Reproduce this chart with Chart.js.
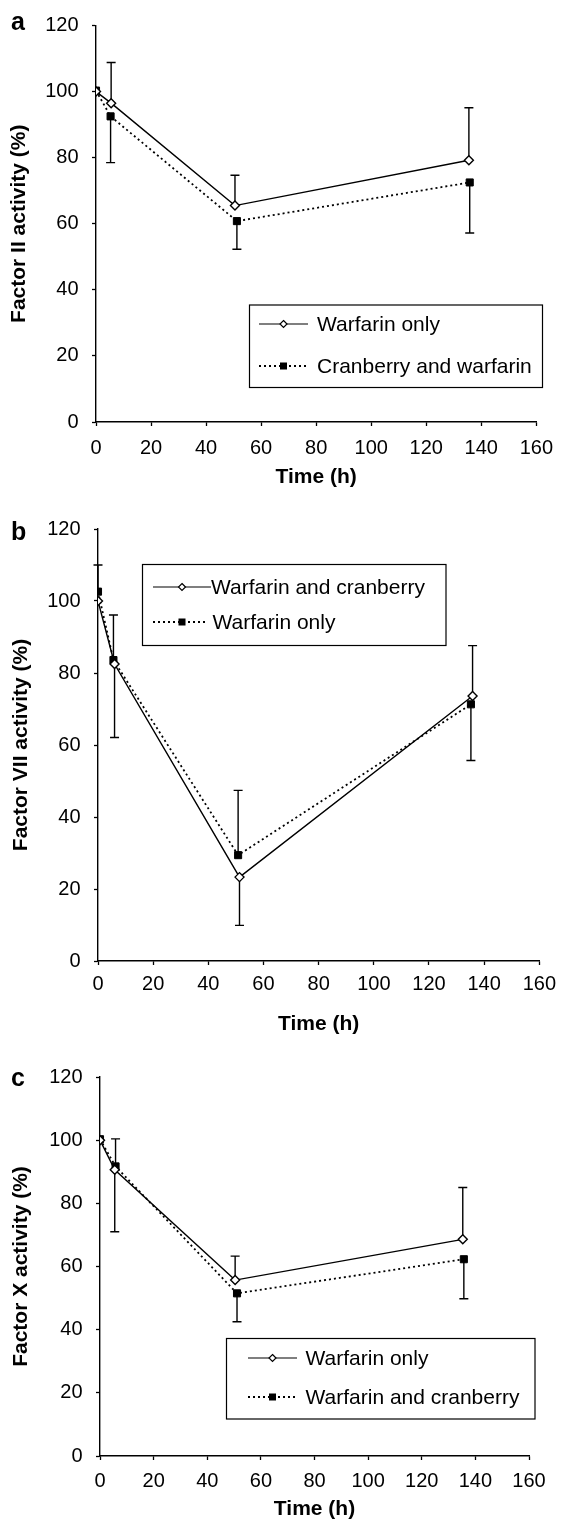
<!DOCTYPE html>
<html>
<head>
<meta charset="utf-8">
<script src="https://cdn.jsdelivr.net/npm/chart.js@4/dist/chart.umd.min.js"></script>
<style>
body { margin: 0; background: #fff; }
#wrap { position: relative; width: 563px; height: 1538px; }
canvas { position: absolute; left: 0; }
</style>
</head>
<body>
<div id="wrap">
<canvas id="chartA" width="563" height="500" style="top:0px"></canvas>
<canvas id="chartB" width="563" height="540" style="top:500px"></canvas>
<canvas id="chartC" width="563" height="498" style="top:1040px"></canvas>
</div>
<script>
// shared axes
var xTicks = [0, 20, 40, 60, 80, 100, 120, 140, 160];
var yTicks = [0, 20, 40, 60, 80, 100, 120];

// panel a - Factor II
var aSolidLabel = 'Warfarin only';
var aSolidX = [0, 5.5, 50.5, 135.5];
var aSolidY = [100, 96.5, 65.5, 79.2];
var aSolidHi = [null, 108.8, 74.7, 95.1];
var aSolidLo = [null, null, null, null];
var aDotLabel = 'Cranberry and warfarin';
var aDotX = [0, 5.3, 51.2, 135.8];
var aDotY = [100.3, 92.5, 60.8, 72.5];
var aDotHi = [null, null, null, null];
var aDotLo = [null, 78.5, 52.3, 57.2];

// panel b - Factor VII
var bSolidLabel = 'Warfarin and cranberry';
var bSolidX = [0, 6.0, 51.3, 135.8];
var bSolidY = [100, 82.5, 23.3, 73.6];
var bSolidHi = [null, null, null, 87.6];
var bSolidLo = [null, 62.1, 9.9, null];
var bDotLabel = 'Warfarin only';
var bDotX = [0, 5.6, 50.8, 135.2];
var bDotY = [102.6, 83.6, 29.4, 71.3];
var bDotHi = [110, 96.1, 47.4, null];
var bDotLo = [null, null, null, 55.7];

// panel c - Factor X
var cSolidLabel = 'Warfarin only';
var cSolidX = [0, 5.5, 50.4, 135.3];
var cSolidY = [100, 90.6, 55.7, 68.6];
var cSolidHi = [null, null, 63.3, 85.0];
var cSolidLo = [null, 71.0, null, null];
var cDotLabel = 'Warfarin and cranberry';
var cDotX = [0, 5.8, 51.1, 135.7];
var cDotY = [100.3, 91.7, 51.5, 62.3];
var cDotHi = [null, 100.4, null, null];
var cDotLo = [null, null, 42.5, 49.8];

var FONT = '"Liberation Sans", Arial, Helvetica, sans-serif';

function toPoints(xs, ys) {
var out = [];
for (var i = 0; i < xs.length; i++) out.push({ x: xs[i], y: ys[i] });
return out;
}

function solidSet(label, xs, ys, hi, lo) {
return {
label: label, data: toPoints(xs, ys), errHi: hi, errLo: lo,
borderColor: '#000', borderWidth: 1.4, showLine: true, tension: 0,
pointStyle: 'rectRot', pointRadius: 4.5, pointBackgroundColor: '#fff',
pointBorderColor: '#000', pointBorderWidth: 1.4
};
}

function dotSet(label, xs, ys, hi, lo) {
return {
label: label, data: toPoints(xs, ys), errHi: hi, errLo: lo,
borderColor: '#000', borderWidth: 1.8, borderDash: [2, 3], showLine: true, tension: 0,
pointStyle: 'rect', pointRadius: 5, pointBackgroundColor: '#000',
pointBorderColor: '#000', pointBorderWidth: 1
};
}

var errorBars = {
id: 'errorBars',
beforeDatasetsDraw: function(chart) {
var ctx = chart.ctx, xs = chart.scales.x, ys = chart.scales.y;
ctx.save();
ctx.strokeStyle = '#000';
ctx.lineWidth = 1.4;
ctx.setLineDash([]);
chart.data.datasets.forEach(function(ds) {
ds.data.forEach(function(p, i) {
var px = xs.getPixelForValue(p.x), py = ys.getPixelForValue(p.y);
[ds.errHi[i], ds.errLo[i]].forEach(function(end) {
if (end == null) return;
var ey = ys.getPixelForValue(end);
ctx.beginPath();
ctx.moveTo(px, py); ctx.lineTo(px, ey);
ctx.moveTo(px - 4.5, ey); ctx.lineTo(px + 4.5, ey);
ctx.stroke();
});
});
});
ctx.restore();
}
};

function drawMarker(ctx, style, x, y) {
ctx.setLineDash([]);
ctx.beginPath();
if (style === 'rectRot') {
var r = 3.5;
ctx.moveTo(x, y - r); ctx.lineTo(x + r, y); ctx.lineTo(x, y + r); ctx.lineTo(x - r, y); ctx.closePath();
ctx.fillStyle = '#fff'; ctx.fill();
ctx.lineWidth = 1.2; ctx.strokeStyle = '#000'; ctx.stroke();
} else {
ctx.fillStyle = '#000';
ctx.fillRect(x - 3.5, y - 3.5, 7, 7);
}
}

var boxLegend = {
id: 'boxLegend',
afterDraw: function(chart, args, opts) {
var ctx = chart.ctx;
ctx.save();
ctx.strokeStyle = '#000';
ctx.lineWidth = 1.2;
ctx.setLineDash([]);
var b = opts.box;
ctx.strokeRect(b[0], b[1], b[2] - b[0], b[3] - b[1]);
ctx.font = '21px ' + FONT;
ctx.fillStyle = '#000';
ctx.textBaseline = 'middle';
opts.rows.forEach(function(r) {
var ds = chart.data.datasets[r.ds];
ctx.strokeStyle = '#000';
ctx.lineWidth = ds.borderDash ? 1.8 : 1.2;
ctx.setLineDash(ds.borderDash || []);
ctx.beginPath();
ctx.moveTo(r.x1, r.y); ctx.lineTo(r.x2, r.y);
ctx.stroke();
drawMarker(ctx, ds.pointStyle, r.mx, r.y);
ctx.fillStyle = '#000';
ctx.fillText(ds.label, r.tx, r.y + 1);
});
if (opts.letter) {
ctx.font = 'bold 25px ' + FONT;
ctx.textBaseline = 'alphabetic';
ctx.fillText(opts.letter[0], opts.letter[1], opts.letter[2]);
}
ctx.restore();
}
};

function makeChart(id, cfg) {
var ctx = document.getElementById(id).getContext('2d');
return new Chart(ctx, {
type: 'scatter',
data: { datasets: [solidSet.apply(null, cfg.solid), dotSet.apply(null, cfg.dot)] },
plugins: [errorBars, boxLegend],
options: {
responsive: false, devicePixelRatio: 1, animation: false,
layout: { padding: cfg.pad },
plugins: {
legend: { display: false }, tooltip: { enabled: false },
boxLegend: cfg.legend
},
scales: {
x: {
type: 'linear', min: xTicks[0], max: xTicks[xTicks.length - 1],
afterBuildTicks: function(s) { s.ticks = xTicks.map(function(v) { return { value: v }; }); },
afterFit: function(s) { s.height = cfg.xh; },
ticks: { color: '#000', font: { family: FONT, size: 20 }, padding: cfg.xpad, maxRotation: 0 },
grid: { drawOnChartArea: false, drawTicks: true, tickLength: 4, tickColor: '#000', tickWidth: 1.3 },
border: { display: true, color: '#000', width: 1.4 },
title: { display: true, text: 'Time (h)', color: '#000', font: { family: FONT, size: 21, weight: 'bold' }, padding: { top: 0, bottom: cfg.xtp } }
},
y: {
min: yTicks[0], max: yTicks[yTicks.length - 1],
afterBuildTicks: function(s) { s.ticks = yTicks.map(function(v) { return { value: v }; }); },
afterFit: function(s) { s.width = cfg.yw; },
ticks: { color: '#000', font: { family: FONT, size: 20 }, padding: 13.5 },
grid: { drawOnChartArea: false, drawTicks: true, tickLength: 4, tickColor: '#000', tickWidth: 1.3 },
border: { display: true, color: '#000', width: 1.4 },
title: { display: true, text: cfg.ytitle, color: '#000', font: { family: FONT, size: 21, weight: 'bold' }, padding: { top: cfg.ytp, bottom: 0 } }
}
}
}
});
}

document.addEventListener('DOMContentLoaded', function() {
makeChart('chartA', {
solid: [aSolidLabel, aSolidX, aSolidY, aSolidHi, aSolidLo],
dot: [aDotLabel, aDotX, aDotY, aDotHi, aDotLo],
pad: { top: 23, right: 21, left: 0, bottom: 0 }, xh: 78, yw: 96, xpad: 10, xtp: 10, ytp: 7,
ytitle: 'Factor II activity (%)',
legend: {
box: [249.5, 305, 542.5, 387.5], letter: ['a', 11, 30],
rows: [{ ds: 0, y: 324, x1: 259, x2: 308, mx: 283.5, tx: 317 }, { ds: 1, y: 366, x1: 259, x2: 308, mx: 283.5, tx: 317 }]
}
});
makeChart('chartB', {
solid: [bSolidLabel, bSolidX, bSolidY, bSolidHi, bSolidLo],
dot: [bDotLabel, bDotX, bDotY, bDotHi, bDotLo],
pad: { top: 29, right: 20, left: 0, bottom: 0 }, xh: 79, yw: 98, xpad: 7, xtp: 3, ytp: 9,
ytitle: 'Factor VII activity (%)',
legend: {
box: [142.5, 64.5, 446, 145.5], letter: ['b', 11, 40],
rows: [{ ds: 0, y: 87, x1: 153, x2: 211, mx: 182, tx: 211 }, { ds: 1, y: 122, x1: 153, x2: 207, mx: 182, tx: 212.5 }]
}
});
makeChart('chartC', {
solid: [cSolidLabel, cSolidX, cSolidY, cSolidHi, cSolidLo],
dot: [cDotLabel, cDotX, cDotY, cDotHi, cDotLo],
pad: { top: 37, right: 34, left: 0, bottom: 0 }, xh: 82, yw: 100, xpad: 9, xtp: 16, ytp: 9,
ytitle: 'Factor X activity (%)',
legend: {
box: [226.5, 298.5, 535, 379], letter: ['c', 11, 46],
rows: [{ ds: 0, y: 318, x1: 248, x2: 297, mx: 272.5, tx: 305.5 }, { ds: 1, y: 357, x1: 248, x2: 297, mx: 272.5, tx: 305.5 }]
}
});
});
</script>
</body>
</html>
